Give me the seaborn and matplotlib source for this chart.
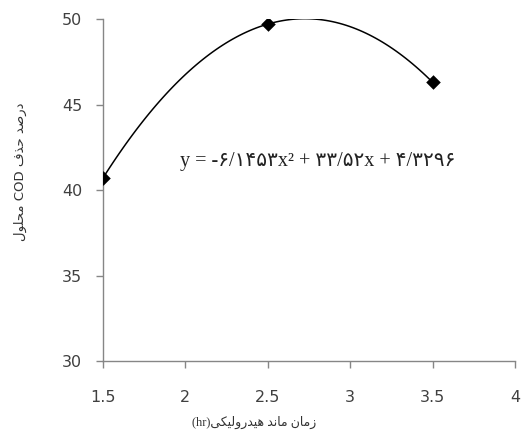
import numpy as np
import matplotlib
matplotlib.use("Agg")
import matplotlib.pyplot as plt
import seaborn as sns

# data
hrt = [1.5, 2.5, 3.5]
cod_removal = [40.7, 49.7, 46.3]
x_ticks = [1.5, 2, 2.5, 3, 3.5, 4]
y_ticks = [30, 35, 40, 45, 50]
eq_label = "y = -۶/۱۴۵۳x² + ۳۳/۵۲x + ۴/۳۲۹۶"

# simple arabic shaping (matplotlib has no RTL / joining support)
FORMS = {
    "ا": ("\uFE8D", "\uFE8E"),
    "د": ("\uFEA9", "\uFEAA"),
    "ذ": ("\uFEAB", "\uFEAC"),
    "ر": ("\uFEAD", "\uFEAE"),
    "ز": ("\uFEAF", "\uFEB0"),
    "و": ("\uFEED", "\uFEEE"),
    "ص": ("\uFEB9", "\uFEBA", "\uFEBB", "\uFEBC"),
    "ح": ("\uFEA1", "\uFEA2", "\uFEA3", "\uFEA4"),
    "ف": ("\uFED1", "\uFED2", "\uFED3", "\uFED4"),
    "م": ("\uFEE1", "\uFEE2", "\uFEE3", "\uFEE4"),
    "ل": ("\uFEDD", "\uFEDE", "\uFEDF", "\uFEE0"),
    "ن": ("\uFEE5", "\uFEE6", "\uFEE7", "\uFEE8"),
    "ه": ("\uFEE9", "\uFEEA", "\uFEEB", "\uFEEC"),
    "ی": ("\uFBFC", "\uFBFD", "\uFBFE", "\uFBFF"),
    "ک": ("\uFB8E", "\uFB8F", "\uFB90", "\uFB91"),
}


def shape(word):
    out = []
    for i, c in enumerate(word):
        f = FORMS[c]
        jp = i > 0 and len(FORMS[word[i - 1]]) == 4
        jn = len(f) == 4 and i + 1 < len(word)
        if jp and jn:
            out.append(f[3])
        elif jp:
            out.append(f[1])
        elif jn:
            out.append(f[2])
        else:
            out.append(f[0])
    return "".join(reversed(out))


def rtl(words):
    # words in logical order -> visual left-to-right string
    return " ".join(shape(w) if w[0] in FORMS else w for w in reversed(words))


ylab = rtl(["درصد", "حذف", "COD", "محلول"])
xlab = "(hr)" + rtl(["زمان", "ماند", "هیدرولیکی"])

sns.set_style("white")
plt.rcParams["font.family"] = ["DejaVu Sans"]

fig = plt.figure(figsize=(5.25, 4.41), dpi=100)
ax = fig.add_axes([0.196, 0.181, 0.785, 0.776])

sns.regplot(x=hrt, y=cod_removal, order=2, ci=None, truncate=True, ax=ax,
            marker="D", color="black",
            scatter_kws={"s": 55, "zorder": 3, "alpha": 1, "linewidths": 0},
            line_kws={"lw": 1.1, "zorder": 2})

ax.set_xlim(1.5, 4)
ax.set_ylim(30, 50)
ax.set_xticks(x_ticks)
ax.set_xticklabels(["1.5", "2", "2.5", "3", "3.5", "4"])
ax.set_yticks(y_ticks)

for side in ["top", "right"]:
    ax.spines[side].set_visible(False)
for side in ["left", "bottom"]:
    ax.spines[side].set_color("#868686")
    ax.spines[side].set_linewidth(1.0)

ax.tick_params(axis="both", direction="out", length=5, width=1, color="#868686",
               bottom=True, left=True, labelsize=11.5, labelcolor="#404040")
ax.tick_params(axis="x", pad=16)
ax.tick_params(axis="y", pad=10)

ax.set_ylabel(ylab, fontsize=9.5, color="#333333")
ax.yaxis.set_label_coords(-0.184, 0.553)
ax.set_xlabel(xlab, fontsize=9, color="#333333",
              family=["Liberation Serif", "DejaVu Sans"])
ax.xaxis.set_label_coords(0.367, -0.16)

ax.text(2.80, 41.65, eq_label, ha="center", va="center", fontsize=14.5,
        family=["Liberation Serif", "DejaVu Sans"], color="#222222")

fig.savefig("out.png", dpi=100)
